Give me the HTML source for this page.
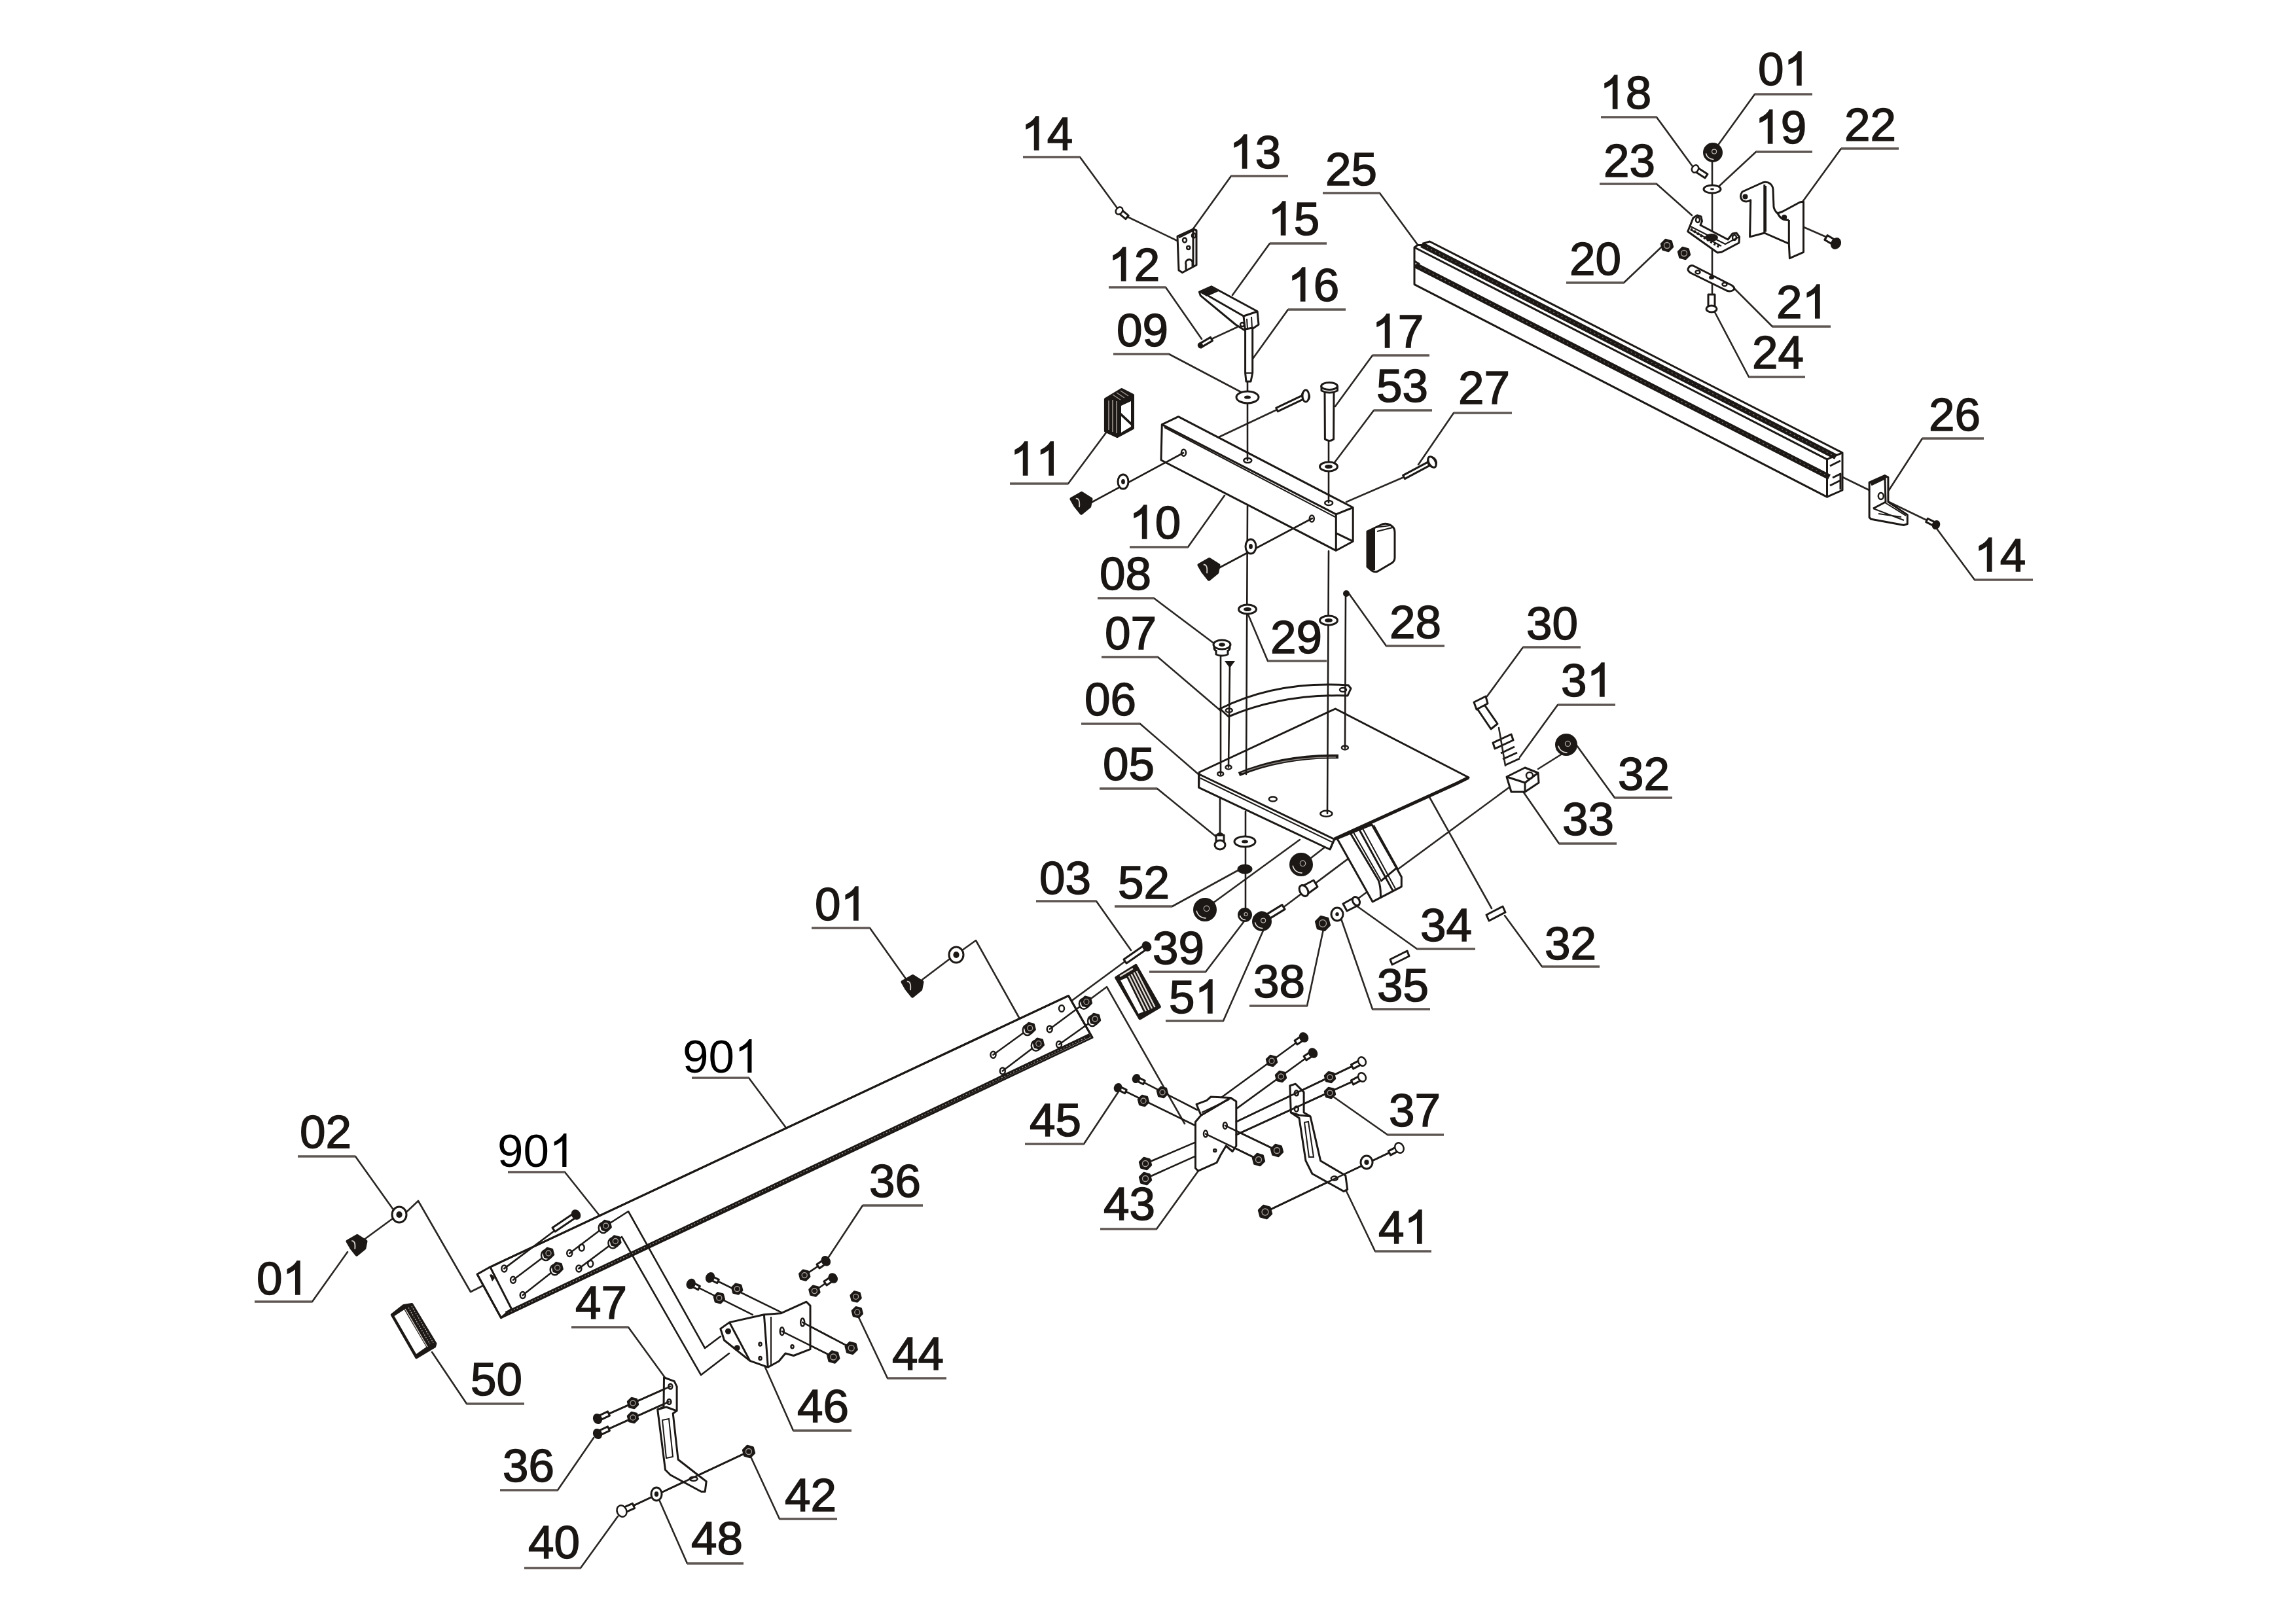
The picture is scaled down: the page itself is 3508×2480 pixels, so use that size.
<!DOCTYPE html>
<html><head><meta charset="utf-8"><style>
html,body{margin:0;padding:0;background:#fff;}
svg{display:block;}
.p{fill:#fff;stroke:#1c1816;stroke-width:3;stroke-linejoin:round;}
.l{fill:none;stroke:#1c1816;stroke-width:3;stroke-linejoin:round;}
.t{fill:none;stroke:#1c1816;stroke-width:2;}
.b{fill:none;stroke:#1c1816;}
.h{fill:none;stroke:#1c1816;stroke-width:2.5;}
.k{fill:#1c1816;stroke:#1c1816;stroke-width:2;}
.a{fill:none;stroke:#2a2624;stroke-width:2.6;stroke-linecap:round;}
</style></head><body>
<svg width="3508" height="2480" viewBox="0 0 3508 2480">
<rect width="3508" height="2480" fill="#fff"/>
<g fill="none" stroke="#2a2624" stroke-width="2.6" stroke-linejoin="round" stroke-linecap="round">
<path d="M1650 240L1707 318 M1881 269L1822 351 M2108 295L2166 374 M1940 372L1883 451 M1781 439L1836 518 M1968 473L1912 551 M1786 541L1896 599 M2097 543L2040 621 M2099 627L2038 708 M2221 631L2167 710 M1632 739L1690 661 M1815 836L1871 757 M1763 914L1860 987 M1769 1004L1865 1086 M1937 1010L1907 939 M2118 987L2061 907 M1742 1106L1831 1183 M1768 1205L1860 1280 M1675 1377L1728 1452 M1791 1385L1895 1328 M1842 1485L1903 1405 M1869 1560L1930 1422 M1997 1537L2022 1420 M2097 1542L2048 1401 M2165 1450L2071 1383 M2356 1477L2299 1399 M2327 989L2272 1064 M2380 1077L2322 1157 M2467 1219L2409 1139 M2382 1289L2326 1208 M2937 670L2886 749 M3017 886L2957 805 M2681 144L2624 223 M2531 179L2588 257 M2683 232L2627 284 M2813 227L2755 307 M2531 281L2585 329 M2481 432L2540 376 M2708 499L2649 440 M2672 576L2620 477 M1329 1418L1385 1497 M1144 1647L1203 1726 M863 1791L926 1870 M543 1767L600 1847 M477 1989L531 1913 M1656 1748L1709 1668 M1767 1878L1831 1789 M2120 1734L2036 1675 M2101 1912L2057 1820 M1318 1842L1262 1927 M960 2028L1016 2105 M713 2145L660 2066 M1212 2186L1169 2089 M1356 2106L1312 2013 M852 2277L907 2197 M887 2396L944 2317 M1050 2389L1005 2287 M1191 2321L1148 2228"/>
</g>
<g class="a" fill="none" stroke="#1e1a18" stroke-width="2.6" stroke-linejoin="round" stroke-linecap="round"><path d="M1722 331 L1799 368 M1851 518 L1890 500 M1951 626 L1862 668 M2145 729 L2057 767 M2616 246 L2616 448 M2726 334 L2790 362 M2811 727 L2856 749 M2886 767 L2944 795 M2306 1203 L2075 1373 M2100 1282 L1960 1387 M1853 1380 L1986 1283 M2003 1311 L2035 1286 M2184 1218 L2279 1388 M1719 1469 L1639 1528 M1660 1531 L1691 1508 L1810 1717 M1470 1452 L1491 1437 L1557 1555 M1409 1497 L1450 1466 M621 1852 L639 1835 L719 1974 L741 1963 M555 1895 L600 1862"/></g>
<g fill="none" stroke="#5e5652" stroke-width="3.6">
<path d="M1563 240H1650 M1881 269H1968 M2021 295H2108 M1940 372H2027 M1694 439H1781 M1968 473H2056 M1701 541H1786 M2097 543H2184 M2099 627H2188 M2221 631H2310 M1543 739H1632 M1726 836H1815 M1677 914H1763 M1683 1004H1769 M1937 1010H2027 M2118 987H2207 M1652 1106H1742 M1680 1205H1768 M1583 1377H1675 M1703 1385H1791 M1756 1485H1842 M1781 1560H1869 M1909 1537H1997 M2097 1542H2185 M2165 1450H2254 M2356 1477H2444 M2327 989H2415 M2380 1077H2468 M2467 1219H2555 M2382 1289H2470 M2937 670H3031 M3017 886H3106 M2681 144H2769 M2446 179H2531 M2683 232H2769 M2813 227H2901 M2444 281H2531 M2393 432H2481 M2708 499H2797 M2672 576H2758 M1240 1418H1329 M1057 1647H1144 M776 1791H863 M455 1767H543 M389 1989H477 M1566 1748H1656 M1681 1878H1767 M2120 1734H2206 M2101 1912H2187 M1318 1842H1410 M873 2028H960 M713 2145H801 M1212 2186H1301 M1356 2106H1446 M764 2277H852 M801 2396H887 M1050 2389H1136 M1191 2321H1279"/>
</g>
<path class="p" d="M2161.0 378.0 L2166.0 374.6 L2172.7 374.6 L2176.6 371.4 L2184.4 369.0 L2815.0 691.9 L2815.0 749.0 L2791.5 759.3 L2161.0 434.6Z"/>
<path class="l" d="M2161 378 L2791.5 701.8 M2791.5 701.8V759.3 M2791.5 701.8 L2815 691.9"/>
<path class="b" stroke-width="8.6" d="M2172 373.9 L2805 698.0 M2163 405.5 L2795 729.0"/>
<path fill="none" stroke="#77706b" stroke-width="1.2" stroke-dasharray="2 5" d="M2180 378.0 L2800 695.4 M2170 409.0 L2790 726.5"/>
<path class="l" d="M2161 399 L2168 403 L2161 406.6"/>
<path class="l" d="M2796 712 L2812 704 M2800 730 L2812 724 V748 M2796 742 L2812 734"/>
<path class="p" d="M1800.4 636.7 L2067.2 775.5 L2067.2 827.2 L2041.3 841.3 L1774 703 L1775.3 648.6Z"/>
<path class="l" d="M1775.3 648.6 L2041.3 785.8 L2067.2 775.5 M2041.3 785.8 V841.3 M2041.3 814.6 L2067.2 827.2"/>
<path class="t" d="M1779 653 L2040 790"/>
<ellipse class="h" cx="1808.5" cy="691.8" rx="3.5" ry="5"/><ellipse class="h" cx="2004.3" cy="792.5" rx="3.5" ry="5"/>
<ellipse class="h" cx="1906.3" cy="703.6" rx="6" ry="3.5"/><ellipse class="h" cx="2030.2" cy="768.5" rx="6" ry="3.5"/>
<path class="p" d="M1864 1083 Q1950 1040 2060 1047 L2064 1052 L2059 1063 Q1960 1060 1877 1095 Z"/>
<ellipse class="h" cx="1877.8" cy="1085.4" rx="5" ry="3"/><ellipse class="h" cx="2052" cy="1054" rx="5" ry="3"/>
<path class="p" d="M1832.3 1180 L2040.3 1083 L2244 1188 L2039 1282 L2032 1298 L1831.6 1203.3 Z"/>
<path class="l" d="M1832 1183 L2038 1282 M1831.6 1203.3 L1831.6 1183 M2039 1282 L2032 1298"/>
<path class="t" d="M1834 1189 L2036 1287"/>
<path class="b" stroke-width="5" d="M2039 1282 L2226 1197 L2244 1188"/>
<path class="b" stroke-width="6.5" d="M1893 1183 Q1960 1155 2045 1156"/>
<path fill="none" stroke="#8a8480" stroke-width="1.5" d="M1897 1181 Q1960 1157 2041 1157"/>
<ellipse class="h" cx="1864.7" cy="1182.5" rx="4.5" ry="3"/>
<ellipse class="h" cx="1877" cy="1172.4" rx="4.5" ry="3"/>
<ellipse class="h" cx="1944.8" cy="1221" rx="6" ry="3.5"/>
<ellipse class="h" cx="2026.4" cy="1243.3" rx="9" ry="4.5"/>
<ellipse class="h" cx="2054.9" cy="1142.4" rx="5" ry="3"/>
<path class="p" d="M2043 1281.6 L2095.9 1260 L2133.8 1326.4 L2141.3 1339.9 L2141.3 1354.8 L2097.2 1377.9 Z"/>
<path class="l" d="M2063.4 1273.5 L2106 1345 Q2110 1355 2109.4 1372.4 M2077 1268 L2128.4 1361.6 M2109.4 1346.7 L2133.8 1326.4"/>
<path class="t" d="M2068 1272 L2111 1347 M2082 1266 L2132 1358 M2099 1261 L2136 1328"/>
<path class="p" d="M729.1 1947.1 L747 1937 L1632.5 1521.5 L1669 1585.5 L765.5 2013.6 Z"/>
<path class="l" stroke-width="4" d="M747 1937 L1632.5 1521.5"/>
<path class="l" d="M748.9 1936 L781.5 2000 M1632.5 1521.5 L1669 1585.5"/>
<path class="b" stroke-width="6" d="M773 2007 L1665 1582"/>
<path fill="none" stroke="#9a948e" stroke-width="1.3" stroke-dasharray="2 3" d="M776 2006 L1660 1585"/>
<path class="l" stroke-width="4" d="M729.1 1947.1 L765.5 2013.6 L781.5 2000"/>
<g fill="none" stroke="#1e1a18" stroke-width="2.6" stroke-linejoin="round" stroke-linecap="round"><path d="M1906 583 L1906 703 M1906 773 L1904 1183 M1903 1240 L1903 1389 M2030 671 L2030 768 M2030 842 L2028 1243 M1865 1001 L1865 1183 M1879 1015 L1877 1172 M2056 907 L2055 1143 M1864 1221 L1864 1274 M1667 768 L1808 692 M1862 868 L2005 792 M960 1851 L1077 2060 L1101 2042 M950 1890 L1071 2101 L1114 2068 M880 1856 L770.4 1938.4 M784 1955.7 L838 1915 M798.7 1979 L851.7 1937.2 M870.2 1915 L925.7 1873 L960 1851 M884.4 1938.4 L940.4 1896.5 L950 1890 M1517.5 1611.7 L1573.7 1571 M1531.8 1636.5 L1586.8 1594.7 M1603.7 1572.5 L1659.9 1530.7 M1618 1596 L1673 1557 M1708 1662 L1826.5 1720 M1736 1648 L1829.3 1696 M1992 1585 L1866 1677 M2006 1609 L1888.8 1694.4 M2081 1622 L1888.8 1714.2 M2081 1646 L1888.8 1734 M1750 1778 L1826.5 1745.4 M1750 1801 L1826.5 1766.6 M1842 1732.6 L1923 1772 M1871.8 1719.9 L1951 1758 M1933 1852 L2138 1754 M1055.7 1961.8 L1149.8 2008.8 M1085 1952 L1192.9 2004.9 M1261.8 1926.8 L1229.2 1948.6 M1272.7 1953 L1244.4 1972.6 M1194.8 2034.3 L1273.3 2073.5 M1226.2 2020.6 L1300.7 2059.8 M913 2168 L1024 2118.6 M913 2191 L1022 2142 M950 2309 L1144 2218"/></g>
<path class="p" d="M1707.8 324.7 L1719.8 334.7 L1724.2 329.3 L1712.2 319.3Z" />
<ellipse cx="1710" cy="322" rx="4.8" ry="6.0" transform="rotate(39.8 1710 322)" fill="#fff" stroke="#1c1816" stroke-width="2.5"/>
<path class="p" d="M1799.0 361.0 L1823.0 350.0 L1828.0 352.0 L1828.0 405.0 L1806.5 416.5 L1801.0 413.0Z" />
<path class="l" d="M1801.0 363.0 L1823.0 352.0 L1823.0 406.0" />
<ellipse class="h" cx="1810" cy="367" rx="3" ry="3.5"/>
<ellipse class="h" cx="1824" cy="360" rx="3" ry="3.5"/>
<ellipse class="h" cx="1815.7" cy="378.6" rx="2.5" ry="2.5"/>
<path class="l" d="M1812 412 L1812 404 A5 5 0 0 1 1822 400 L1822 407"/>
<path class="p" d="M1832.4 446.1 L1850.9 437.8 L1921.1 475.7 L1923.0 496.0 L1911.9 503.4 L1902.6 505.3 L1887.9 496.0 L1834.2 451.6Z" />
<path d="M1833 447 L1851 439 L1862 445 L1844 453Z" fill="#1c1816"/>
<path class="l" d="M1846.0 452.0 L1900.0 483.0 L1921.0 476.0" />
<path class="l" d="M1900.0 483.0 L1902.6 505.3" />
<path class="t" d="M1905 487 L1906 503 M1912 484 L1913 501"/>
<ellipse class="h" cx="1898" cy="496" rx="3" ry="3"/>
<path class="p" d="M1902.6 503.0 L1913.7 501.0 L1913.7 570.0 L1911.0 583.0 L1904.0 583.0 L1902.6 570.0Z" />
<path class="t" d="M1903 570 L1913 570"/>
<path class="p" d="M1835.5 530.6 L1852.5 520.6 L1849.5 515.4 L1832.5 525.4Z" />
<ellipse cx="1834" cy="528" rx="2.8" ry="3.5" transform="rotate(-30.5 1834 528)" fill="#1c1816" stroke="#1c1816" stroke-width="2.5"/>
<ellipse cx="1906" cy="607" rx="17" ry="9" fill="#fff" stroke="#1c1816" stroke-width="3"/>
<ellipse cx="1906" cy="607" rx="5.0" ry="2.6" fill="#1c1816"/>
<path class="p" d="M1993.7 602.3 L1949.7 623.3 L1952.3 628.7 L1996.3 607.7Z" />
<ellipse cx="1995" cy="605" rx="5.6" ry="7.0" transform="rotate(154.5 1995 605)" fill="#fff" stroke="#1c1816" stroke-width="2.5"/>
<ellipse cx="1995" cy="605" rx="5" ry="9" fill="#fff" stroke="#1c1816" stroke-width="3"/>
<path class="p" d="M2024 597 L2038 597 L2037.6 671 Q2031 676 2024.4 671Z"/>
<path class="p" d="M2019 590 L2019 597 Q2031 603 2043.5 597 L2043.5 590Z"/>
<ellipse cx="2031" cy="590" rx="12.3" ry="5.5" fill="#fff" stroke="#1c1816" stroke-width="3"/>
<ellipse cx="2030" cy="713" rx="13.5" ry="7" fill="#fff" stroke="#1c1816" stroke-width="3"/>
<ellipse cx="2030" cy="713" rx="6.0" ry="3.1" fill="#1c1816"/>
<path class="p" d="M2186.6 703.4 L2143.6 726.4 L2146.4 731.6 L2189.4 708.6Z" />
<ellipse cx="2188" cy="706" rx="6.4" ry="8.0" transform="rotate(151.9 2188 706)" fill="#fff" stroke="#1c1816" stroke-width="2.5"/>
<ellipse cx="2188" cy="706" rx="5" ry="9" fill="#fff" stroke="#1c1816" stroke-width="3" transform="rotate(-28 2188 706)"/>
<path d="M1688.9 610 L1713.8 595 L1731 603.9 L1731 654.3 L1707.2 667.1 L1688.9 658.8Z" fill="#1c1816" stroke="#1c1816" stroke-width="4" stroke-linejoin="round"/>
<path fill="#fff" d="M1713 620 L1728 613 L1728 645 L1713 631Z M1713 636 L1728 650 L1728 652 L1713 661Z"/>
<path fill="none" stroke="#9c948e" stroke-width="1.6" d="M1694 612 V657 M1700 611 V660 M1706 613 V662"/>
<path fill="none" stroke="#a8a09a" stroke-width="1.3" d="M1700 603 L1712 611 M1706 600 L1718 608 M1712 597 L1724 605"/>
<path class="p" d="M2089 812 L2112 801 Q2118 799 2124 802 L2128 805 Q2131 808 2131 813 L2131 852 Q2131 857 2127 860 L2105 873 Q2100 875 2096 872 L2089 866Z"/>
<path d="M2089 812 L2101 806 L2101 871 L2096 872 L2089 866Z" fill="#1c1816"/>
<path class="t" d="M2101 806 L2124 803 M2104 812 L2128 806"/>
<path d="M1637.0 762.5 L1652.8 753.5 L1667.0 762.5 L1664.8 773.8 L1652.0 784.2 L1643.0 773.0Z" fill="#1c1816" stroke="#1c1816" stroke-width="5" stroke-linejoin="round"/>
<path d="M1643.8 761.8 Q1650.5 761.0 1649.0 775.2" fill="none" stroke="#d8d2cc" stroke-width="1.8"/>
<ellipse cx="1716" cy="736" rx="8" ry="11" fill="#fff" stroke="#1c1816" stroke-width="3"/>
<ellipse cx="1716" cy="736" rx="2.9" ry="4.0" fill="#1c1816"/>
<path d="M1832.0 863.5 L1847.8 854.5 L1862.0 863.5 L1859.8 874.8 L1847.0 885.2 L1838.0 874.0Z" fill="#1c1816" stroke="#1c1816" stroke-width="5" stroke-linejoin="round"/>
<path d="M1838.8 862.8 Q1845.5 862.0 1844.0 876.2" fill="none" stroke="#d8d2cc" stroke-width="1.8"/>
<ellipse cx="1911" cy="835" rx="8" ry="11" fill="#fff" stroke="#1c1816" stroke-width="3"/>
<ellipse cx="1911" cy="835" rx="2.9" ry="4.0" fill="#1c1816"/>
<ellipse cx="1867" cy="990" rx="12" ry="7" fill="#fff" stroke="#1c1816" stroke-width="3"/>
<path class="p" d="M1858 993 L1858 1000 Q1867 1004 1876 1000 L1876 993"/>
<ellipse cx="1867" cy="985" rx="13" ry="7" fill="#fff" stroke="#1c1816" stroke-width="3"/>
<ellipse cx="1867" cy="985" rx="5" ry="3" fill="#1c1816"/>
<path d="M1873 1011 L1885 1011 L1879 1019Z" fill="#1c1816" stroke="#1c1816" stroke-width="2"/>
<circle cx="2057" cy="907" r="5" fill="#1c1816"/>
<ellipse cx="1906" cy="931" rx="13.5" ry="7" fill="#fff" stroke="#1c1816" stroke-width="3"/>
<ellipse cx="1906" cy="931" rx="6.0" ry="3.1" fill="#1c1816"/>
<ellipse cx="2030" cy="948" rx="13.5" ry="7" fill="#fff" stroke="#1c1816" stroke-width="3"/>
<ellipse cx="2030" cy="948" rx="6.0" ry="3.1" fill="#1c1816"/>
<path class="p" d="M1858 1276 L1870 1276 L1870 1287 L1858 1287Z"/>
<ellipse cx="1864" cy="1291" rx="8" ry="7" fill="#fff" stroke="#1c1816" stroke-width="3"/>
<ellipse cx="1864" cy="1275" rx="5" ry="3" fill="#1c1816"/>
<ellipse cx="1902" cy="1286" rx="16" ry="8" fill="#fff" stroke="#1c1816" stroke-width="3"/>
<ellipse cx="1902" cy="1286" rx="5.0" ry="2.5" fill="#1c1816"/>
<ellipse cx="1902" cy="1328" rx="10" ry="6" fill="#1c1816" stroke="#1c1816" stroke-width="3"/>
<circle cx="1902" cy="1398" r="10" fill="#1c1816" stroke="#1c1816" stroke-width="2"/>
<path d="M1894.5 1399.0 A8.0 8.0 0 0 0 1903.0 1405.5" fill="none" stroke="#e8e4e0" stroke-width="1.6"/>
<circle cx="1903.5" cy="1397.0" r="2.5" fill="none" stroke="#bdb6b0" stroke-width="1.2"/>
<circle cx="1841" cy="1390" r="17" fill="#1c1816" stroke="#1c1816" stroke-width="2"/>
<path d="M1828.2 1391.7 A13.6 13.6 0 0 0 1842.7 1402.8" fill="none" stroke="#e8e4e0" stroke-width="1.6"/>
<circle cx="1843.5" cy="1388.3" r="4.2" fill="none" stroke="#bdb6b0" stroke-width="1.2"/>
<circle cx="1988" cy="1321" r="17" fill="#1c1816" stroke="#1c1816" stroke-width="2"/>
<path d="M1975.2 1322.7 A13.6 13.6 0 0 0 1989.7 1333.8" fill="none" stroke="#e8e4e0" stroke-width="1.6"/>
<circle cx="1990.5" cy="1319.3" r="4.2" fill="none" stroke="#bdb6b0" stroke-width="1.2"/>
<path class="p" d="M1932.1 1408.4 L1963.1 1389.4 L1958.9 1382.6 L1927.9 1401.6Z" />
<ellipse cx="1930" cy="1405" rx="9.6" ry="12.0" transform="rotate(-31.5 1930 1405)" fill="#1c1816" stroke="#1c1816" stroke-width="2.5"/>
<circle cx="1928" cy="1408" r="14" fill="#1c1816" stroke="#1c1816" stroke-width="2"/>
<path d="M1917.5 1409.4 A11.2 11.2 0 0 0 1929.4 1418.5" fill="none" stroke="#e8e4e0" stroke-width="1.6"/>
<circle cx="1930.1" cy="1406.6" r="3.5" fill="none" stroke="#bdb6b0" stroke-width="1.2"/>
<path class="p" d="M1988 1355 L2007 1345 L2013 1355 L1995 1368Z"/>
<ellipse cx="1992" cy="1361" rx="6" ry="9" fill="#fff" stroke="#1c1816" stroke-width="3" transform="rotate(-30 1992 1361)"/>
<path class="p" d="M2031.6 1413.8 L2023.8 1421.6 L2013.2 1418.8 L2010.4 1408.2 L2018.2 1400.4 L2028.8 1403.2Z" style="fill:#1c1816"/>
<circle cx="2021" cy="1411" r="5.5" fill="none" stroke="#aaa29c" stroke-width="1.3"/>
<ellipse cx="2043" cy="1397" rx="9" ry="10" fill="#fff" stroke="#1c1816" stroke-width="3"/>
<ellipse cx="2043" cy="1397" rx="2.7" ry="3.0" fill="#1c1816"/>
<path class="p" d="M2052 1381 L2070 1371 L2076 1383 L2058 1392Z"/>
<ellipse cx="2072" cy="1377" rx="5" ry="7" fill="#fff" stroke="#1c1816" stroke-width="3" transform="rotate(-30 2072 1377)"/>
<path class="p" d="M2271 1398 L2296 1385 L2300 1394 L2275 1407Z"/>
<path class="p" d="M2124 1466 L2150 1453 L2153 1461 L2127 1474Z"/>
<path class="p" d="M2257 1083 L2268 1077 L2288 1106 L2278 1114Z"/>
<path class="p" d="M2252 1073 L2270 1064 L2273 1075 L2256 1084Z"/>
<path class="p" d="M2281 1135 L2309 1122 L2312 1131 L2284 1144Z"/>
<path class="l" stroke-width="4" d="M2293 1151 L2314 1141 M2296 1160 L2318 1150 M2300 1169 L2322 1159"/>
<path class="a" d="M2290 1112 L2300 1170"/>
<path class="p" d="M2302.0 1187.0 L2330.0 1173.0 L2350.0 1181.0 L2351.0 1196.0 L2330.0 1210.0 L2309.0 1210.0Z" />
<path class="l" d="M2302.0 1187.0 L2330.0 1196.0 L2350.0 1181.0" />
<path class="l" d="M2330.0 1196.0 L2330.0 1210.0" />
<circle cx="2337" cy="1185" r="5" fill="none" stroke="#1c1816" stroke-width="2.5"/>
<path class="a" d="M2350 1175 L2393 1148"/>
<circle cx="2393" cy="1138" r="16" fill="#1c1816" stroke="#1c1816" stroke-width="2"/>
<path d="M2381.0 1139.6 A12.8 12.8 0 0 0 2394.6 1150.0" fill="none" stroke="#e8e4e0" stroke-width="1.6"/>
<circle cx="2395.4" cy="1136.4" r="4.0" fill="none" stroke="#bdb6b0" stroke-width="1.2"/>
<path class="p" d="M2856.1 737.1 L2879.7 726.6 L2884.9 729.3 L2884.9 767.1 L2914.3 786.7 L2914.3 800.5 L2909.0 802.4 L2858.8 793.3 L2856.1 790.7Z" />
<path class="l" d="M2859.0 741.0 L2880.0 731.0 L2881.0 767.0 L2862.0 777.0" />
<path class="t" d="M2862 777 L2909 795 M2870 785 L2905 790 M2880 768 L2912 788"/>
<path d="M2856 737 L2880 726 L2885 729 L2860 741Z" fill="#1c1816"/>
<ellipse class="h" cx="2873.8" cy="758" rx="4" ry="5"/>
<path class="p" d="M2959.3 799.3 L2945.3 792.3 L2942.7 797.7 L2956.7 804.7Z" />
<ellipse cx="2958" cy="802" rx="4.8" ry="6.0" transform="rotate(-153.4 2958 802)" fill="#1c1816" stroke="#1c1816" stroke-width="2.5"/>
<circle cx="2617" cy="233" r="14" fill="#1c1816" stroke="#1c1816" stroke-width="2"/>
<path d="M2606.5 234.4 A11.2 11.2 0 0 0 2618.4 243.5" fill="none" stroke="#e8e4e0" stroke-width="1.6"/>
<circle cx="2619.1" cy="231.6" r="3.5" fill="none" stroke="#bdb6b0" stroke-width="1.2"/>
<path class="p" d="M2588.1 260.9 L2605.1 271.9 L2608.9 266.1 L2591.9 255.1Z" />
<ellipse cx="2590" cy="258" rx="4.8" ry="6.0" transform="rotate(32.9 2590 258)" fill="#fff" stroke="#1c1816" stroke-width="2.5"/>
<ellipse cx="2616" cy="289" rx="13" ry="6" fill="#fff" stroke="#1c1816" stroke-width="3"/>
<ellipse cx="2616" cy="289" rx="3.0" ry="1.4" fill="#1c1816"/>
<path class="p" d="M2578.7 353.7 L2583.4 342.0 L2587.0 333.0 L2593.0 329.0 L2599.0 331.0 L2600.5 338.0 L2598.0 344.0 L2640.0 366.0 L2647.0 357.0 L2653.0 356.0 L2657.5 362.0 L2657.0 371.0 L2630.2 385.3 L2624.0 386.0Z" />
<path class="t" d="M2583 346 L2636 373 L2657 362 M2585 352 L2630 376"/>
<ellipse class="h" cx="2594" cy="336" rx="3" ry="4"/>
<ellipse class="h" cx="2650" cy="363" rx="3" ry="4"/>
<ellipse cx="2615" cy="363" rx="10" ry="6" fill="#1c1816"/>
<path fill="none" stroke="#1c1816" stroke-width="4" stroke-dasharray="3 3" d="M2583 350 L2628 378"/>
<path class="p" d="M2587 406 L2646 436 Q2653 441 2647 444 Q2643 446 2638 444 L2583 417 Q2577 413 2580 409 Q2582 405 2587 406Z"/>
<ellipse class="h" cx="2594" cy="415.7" rx="3.5" ry="2.5"/>
<ellipse cx="2615" cy="424" rx="4" ry="3" fill="#1c1816"/>
<ellipse class="h" cx="2635" cy="434.4" rx="3.5" ry="2.5"/>
<path class="p" d="M2610 450 L2620 450 L2620 468 L2610 468Z"/>
<ellipse cx="2615" cy="472" rx="8" ry="5" fill="#fff" stroke="#1c1816" stroke-width="3"/>
<path class="p" d="M2555.7 377.3 L2549.3 383.7 L2540.6 381.4 L2538.3 372.7 L2544.7 366.3 L2553.4 368.6Z" style="fill:#1c1816"/>
<circle cx="2547" cy="375" r="4.5" fill="none" stroke="#aaa29c" stroke-width="1.3"/>
<path class="p" d="M2581.7 389.3 L2575.3 395.7 L2566.6 393.4 L2564.3 384.7 L2570.7 378.3 L2579.4 380.6Z" style="fill:#1c1816"/>
<circle cx="2573" cy="387" r="4.5" fill="none" stroke="#aaa29c" stroke-width="1.3"/>
<path class="p" d="M2674.7 305.7 Q2668 310 2662 306 Q2657 300 2662 293 L2693 279 Q2700 277 2705 281 Q2709 285 2709 290 L2710 316 Q2711 322 2716 326 L2724 323 L2750 309 L2755.5 308 L2755.5 385.3 L2734.4 394.6 L2733.3 372.4 L2695.8 356 L2673.6 361.9Z"/>
<path class="l" d="M2695.8 282 L2695.8 356 M2733.3 336 L2733.3 372.4"/>
<path class="t" d="M2698 284 L2698 354"/>
<circle cx="2666.5" cy="300.4" r="4" fill="#1c1816"/><circle cx="2726.2" cy="332" r="4" fill="#1c1816"/>
<path class="l" d="M2716 326 Q2722 338 2733 336"/>
<path class="p" d="M2807.1 368.6 L2792.1 359.6 L2787.9 366.4 L2802.9 375.4Z" />
<ellipse cx="2805" cy="372" rx="6.4" ry="8.0" transform="rotate(-149.0 2805 372)" fill="#1c1816" stroke="#1c1816" stroke-width="2.5"/>
<path class="p" d="M1750.0 1443.1 L1717.0 1466.1 L1721.0 1471.9 L1754.0 1448.9Z" />
<ellipse cx="1752" cy="1446" rx="5.6" ry="7.0" transform="rotate(145.1 1752 1446)" fill="#1c1816" stroke="#1c1816" stroke-width="2.5"/>
<path d="M1705.7 1494 L1735.3 1475.5 L1771.3 1538.3 L1741.8 1555.9Z" fill="#1c1816" stroke="#1c1816" stroke-width="5" stroke-linejoin="round"/>
<path d="M1712 1498 L1721.5 1494 L1747 1546 L1739.5 1549Z" fill="#fff"/>
<path fill="none" stroke="#e0dad4" stroke-width="2.4" d="M1724.5 1491 L1751 1545 M1728.5 1488.5 L1755.5 1543 M1732.5 1486 L1760 1541 M1736.5 1484 L1764.5 1539 M1711 1492 L1731 1480"/>
<path d="M1379.0 1500.5 L1394.8 1491.5 L1409.0 1500.5 L1406.8 1511.8 L1394.0 1522.2 L1385.0 1511.0Z" fill="#1c1816" stroke="#1c1816" stroke-width="5" stroke-linejoin="round"/>
<path d="M1385.8 1499.8 Q1392.5 1499.0 1391.0 1513.2" fill="none" stroke="#d8d2cc" stroke-width="1.8"/>
<ellipse cx="1461" cy="1459" rx="11" ry="12" fill="#fff" stroke="#1c1816" stroke-width="3"/>
<ellipse cx="1461" cy="1459" rx="4.6" ry="5.0" fill="#1c1816"/>
<ellipse cx="610" cy="1856" rx="11" ry="12" fill="#fff" stroke="#1c1816" stroke-width="3"/>
<ellipse cx="610" cy="1856" rx="4.6" ry="5.0" fill="#1c1816"/>
<path d="M531.0 1896.8 L545.7 1888.4 L559.0 1896.8 L556.9 1907.3 L545.0 1917.1 L536.6 1906.6Z" fill="#1c1816" stroke="#1c1816" stroke-width="5" stroke-linejoin="round"/>
<path d="M537.3 1896.1 Q543.6 1895.4 542.2 1908.7" fill="none" stroke="#d8d2cc" stroke-width="1.8"/>
<path d="M598.8 2009.1 L616.9 1994.9 L629.2 1992.9 L665.4 2053.1 L664.1 2057.6 L636.3 2074.4 Z" fill="#1c1816" stroke="#1c1816" stroke-width="4" stroke-linejoin="round"/>
<path d="M602.5 2011 L617.5 2001.3 L651.2 2058.3 L636 2069 Z" fill="#fff"/>
<path fill="none" stroke="#aaa29c" stroke-width="1.4" stroke-dasharray="2 2" d="M624 1998 L657 2054 M629 1996 L662 2052"/>
<path fill="none" stroke="#ddd6d0" stroke-width="1.4" d="M619 2000 L653 2058"/>
<path class="p" d="M878.0 1853.1 L844.0 1876.1 L848.0 1881.9 L882.0 1858.9Z" />
<ellipse cx="880" cy="1856" rx="5.6" ry="7.0" transform="rotate(145.9 880 1856)" fill="#1c1816" stroke="#1c1816" stroke-width="2.5"/>
<ellipse class="h" cx="770.4" cy="1938.4" rx="4" ry="5"/>
<ellipse class="h" cx="784" cy="1955.7" rx="4" ry="5"/>
<ellipse class="h" cx="798.7" cy="1979" rx="4" ry="5"/>
<ellipse class="h" cx="870.2" cy="1915" rx="4" ry="5"/>
<ellipse class="h" cx="884.4" cy="1938.4" rx="4" ry="5"/>
<ellipse class="h" cx="888.7" cy="1906.4" rx="4" ry="5"/>
<ellipse class="h" cx="902.2" cy="1931" rx="4" ry="5"/>
<ellipse class="h" cx="1517.5" cy="1611.7" rx="4" ry="5"/>
<ellipse class="h" cx="1531.8" cy="1636.5" rx="4" ry="5"/>
<ellipse class="h" cx="1603.7" cy="1572.5" rx="4" ry="5"/>
<ellipse class="h" cx="1618" cy="1596" rx="4" ry="5"/>
<ellipse class="h" cx="1622" cy="1541" rx="4" ry="5"/>
<ellipse cx="834" cy="1918" rx="7" ry="8" fill="#fff" stroke="#1c1816" stroke-width="2.5"/>
<path class="p" d="M845.7 1917.1 L840.1 1922.7 L832.3 1920.7 L830.3 1912.9 L835.9 1907.3 L843.7 1909.3Z" style="fill:#1c1816"/>
<circle cx="838" cy="1915" r="4.0" fill="none" stroke="#aaa29c" stroke-width="1.3"/>
<ellipse cx="847.7" cy="1940.2" rx="7" ry="8" fill="#fff" stroke="#1c1816" stroke-width="2.5"/>
<path class="p" d="M859.4 1939.3 L853.8 1944.9 L846.0 1942.9 L844.0 1935.1 L849.6 1929.5 L857.4 1931.5Z" style="fill:#1c1816"/>
<circle cx="851.7" cy="1937.2" r="4.0" fill="none" stroke="#aaa29c" stroke-width="1.3"/>
<ellipse cx="921.7" cy="1876" rx="7" ry="8" fill="#fff" stroke="#1c1816" stroke-width="2.5"/>
<path class="p" d="M933.4 1875.1 L927.8 1880.7 L920.0 1878.7 L918.0 1870.9 L923.6 1865.3 L931.4 1867.3Z" style="fill:#1c1816"/>
<circle cx="925.7" cy="1873" r="4.0" fill="none" stroke="#aaa29c" stroke-width="1.3"/>
<ellipse cx="936.4" cy="1899.5" rx="7" ry="8" fill="#fff" stroke="#1c1816" stroke-width="2.5"/>
<path class="p" d="M948.1 1898.6 L942.5 1904.2 L934.7 1902.2 L932.7 1894.4 L938.3 1888.8 L946.1 1890.8Z" style="fill:#1c1816"/>
<circle cx="940.4" cy="1896.5" r="4.0" fill="none" stroke="#aaa29c" stroke-width="1.3"/>
<ellipse cx="1569.7" cy="1574" rx="7" ry="8" fill="#fff" stroke="#1c1816" stroke-width="2.5"/>
<path class="p" d="M1581.4 1573.1 L1575.8 1578.7 L1568.0 1576.7 L1566.0 1568.9 L1571.6 1563.3 L1579.4 1565.3Z" style="fill:#1c1816"/>
<circle cx="1573.7" cy="1571" r="4.0" fill="none" stroke="#aaa29c" stroke-width="1.3"/>
<ellipse cx="1582.8" cy="1597.7" rx="7" ry="8" fill="#fff" stroke="#1c1816" stroke-width="2.5"/>
<path class="p" d="M1594.5 1596.8 L1588.9 1602.4 L1581.1 1600.4 L1579.1 1592.6 L1584.7 1587.0 L1592.5 1589.0Z" style="fill:#1c1816"/>
<circle cx="1586.8" cy="1594.7" r="4.0" fill="none" stroke="#aaa29c" stroke-width="1.3"/>
<ellipse cx="1655.9" cy="1533.7" rx="7" ry="8" fill="#fff" stroke="#1c1816" stroke-width="2.5"/>
<path class="p" d="M1667.6 1532.8 L1662.0 1538.4 L1654.2 1536.4 L1652.2 1528.6 L1657.8 1523.0 L1665.6 1525.0Z" style="fill:#1c1816"/>
<circle cx="1659.9" cy="1530.7" r="4.0" fill="none" stroke="#aaa29c" stroke-width="1.3"/>
<ellipse cx="1669" cy="1560" rx="7" ry="8" fill="#fff" stroke="#1c1816" stroke-width="2.5"/>
<path class="p" d="M1680.7 1559.1 L1675.1 1564.7 L1667.3 1562.7 L1665.3 1554.9 L1670.9 1549.3 L1678.7 1551.3Z" style="fill:#1c1816"/>
<circle cx="1673" cy="1557" r="4.0" fill="none" stroke="#aaa29c" stroke-width="1.3"/>
<path d="M748 1948 Q752 1945 756 1953 L752 1958Z" fill="#1c1816"/>
<path class="p" d="M1826.5 1714.2 L1835.0 1704.3 L1880.3 1677.4 L1888.8 1683.1 L1888.8 1751.0 L1883.1 1759.5 L1873.2 1751.0 L1864.7 1765.2 L1859.0 1776.5 L1830.7 1789.2 L1826.5 1785.0Z" />
<path class="p" d="M1828.0 1687.3 L1843.5 1681.7 L1850.0 1676.0 L1880.3 1677.4 L1835.0 1704.3Z" />
<path class="t" d="M1836 1700 L1878 1680"/>
<ellipse class="h" cx="1842" cy="1732.6" rx="3" ry="5"/>
<ellipse class="h" cx="1871.8" cy="1719.9" rx="3" ry="5"/>
<ellipse class="h" cx="1856.2" cy="1758.1" rx="2" ry="2"/>
<path d="M1842.0 1732.6 L1923.0 1772.0 M1871.8 1719.9 L1951.0 1758.0" fill="none" stroke="#1e1a18" stroke-width="2.6" stroke-linecap="round"/>
<path class="p" d="M1970.9 1659.0 L1979.4 1656.2 L1992.1 1668.9 L1992.1 1700.0 L2002.0 1705.7 L2017.6 1773.7 L2055.8 1796.3 L2058.7 1817.6 L2053.0 1820.4 L2004.9 1793.5 L1995.0 1773.7 L1985.0 1708.5 L1972.3 1700.0Z" />
<path class="l" d="M1972.3 1700.0 L1985.0 1704.0 L2002.0 1705.7" />
<ellipse class="h" cx="1980.8" cy="1670.3" rx="3" ry="4"/>
<ellipse class="h" cx="1980.8" cy="1694.4" rx="3" ry="4"/>
<ellipse class="h" cx="2038.8" cy="1800.6" rx="5" ry="3"/>
<path class="t" d="M1993 1715 L2000 1768 L2007 1768 L1999 1714Z"/>
<path d="M2081.0 1622.0 L1888.8 1714.2 M2081.0 1646.0 L1888.8 1734.0 M1933.0 1852.0 L2138.0 1754.0" fill="none" stroke="#1e1a18" stroke-width="2.6" stroke-linecap="round"/>
<path class="p" d="M1706.7 1664.7 L1718.7 1670.7 L1721.3 1665.3 L1709.3 1659.3Z" />
<ellipse cx="1708" cy="1662" rx="4.8" ry="6.0" transform="rotate(26.6 1708 1662)" fill="#1c1816" stroke="#1c1816" stroke-width="2.5"/>
<path class="p" d="M1754.7 1684.1 L1749.1 1689.7 L1741.3 1687.7 L1739.3 1679.9 L1744.9 1674.3 L1752.7 1676.3Z" style="fill:#1c1816"/>
<circle cx="1747" cy="1682" r="4.0" fill="none" stroke="#aaa29c" stroke-width="1.3"/>
<path class="p" d="M1734.7 1650.7 L1746.7 1656.7 L1749.3 1651.3 L1737.3 1645.3Z" />
<ellipse cx="1736" cy="1648" rx="4.8" ry="6.0" transform="rotate(26.6 1736 1648)" fill="#1c1816" stroke="#1c1816" stroke-width="2.5"/>
<path class="p" d="M1783.7 1671.1 L1778.1 1676.7 L1770.3 1674.7 L1768.3 1666.9 L1773.9 1661.3 L1781.7 1663.3Z" style="fill:#1c1816"/>
<circle cx="1776" cy="1669" r="4.0" fill="none" stroke="#aaa29c" stroke-width="1.3"/>
<path class="p" d="M1990.1 1582.1 L1978.1 1590.1 L1981.9 1595.9 L1993.9 1587.9Z" />
<ellipse cx="1992" cy="1585" rx="5.6" ry="7.0" transform="rotate(146.3 1992 1585)" fill="#1c1816" stroke="#1c1816" stroke-width="2.5"/>
<path class="p" d="M1950.7 1623.1 L1945.1 1628.7 L1937.3 1626.7 L1935.3 1618.9 L1940.9 1613.3 L1948.7 1615.3Z" style="fill:#1c1816"/>
<circle cx="1943" cy="1621" r="4.0" fill="none" stroke="#aaa29c" stroke-width="1.3"/>
<path class="p" d="M2004.1 1606.1 L1992.1 1614.1 L1995.9 1619.9 L2007.9 1611.9Z" />
<ellipse cx="2006" cy="1609" rx="5.6" ry="7.0" transform="rotate(146.3 2006 1609)" fill="#1c1816" stroke="#1c1816" stroke-width="2.5"/>
<path class="p" d="M1964.7 1647.1 L1959.1 1652.7 L1951.3 1650.7 L1949.3 1642.9 L1954.9 1637.3 L1962.7 1639.3Z" style="fill:#1c1816"/>
<circle cx="1957" cy="1645" r="4.0" fill="none" stroke="#aaa29c" stroke-width="1.3"/>
<path class="p" d="M2079.4 1618.9 L2064.4 1626.9 L2067.6 1633.1 L2082.6 1625.1Z" />
<ellipse cx="2081" cy="1622" rx="5.6" ry="7.0" transform="rotate(151.9 2081 1622)" fill="#fff" stroke="#1c1816" stroke-width="2.5"/>
<path class="p" d="M2039.7 1648.1 L2034.1 1653.7 L2026.3 1651.7 L2024.3 1643.9 L2029.9 1638.3 L2037.7 1640.3Z" style="fill:#1c1816"/>
<circle cx="2032" cy="1646" r="4.0" fill="none" stroke="#aaa29c" stroke-width="1.3"/>
<path class="p" d="M2079.4 1642.9 L2064.4 1650.9 L2067.6 1657.1 L2082.6 1649.1Z" />
<ellipse cx="2081" cy="1646" rx="5.6" ry="7.0" transform="rotate(151.9 2081 1646)" fill="#fff" stroke="#1c1816" stroke-width="2.5"/>
<path class="p" d="M2039.7 1672.1 L2034.1 1677.7 L2026.3 1675.7 L2024.3 1667.9 L2029.9 1662.3 L2037.7 1664.3Z" style="fill:#1c1816"/>
<circle cx="2032" cy="1670" r="4.0" fill="none" stroke="#aaa29c" stroke-width="1.3"/>
<path class="p" d="M1758.7 1780.3 L1752.3 1786.7 L1743.6 1784.4 L1741.3 1775.7 L1747.7 1769.3 L1756.4 1771.6Z" style="fill:#1c1816"/>
<circle cx="1750" cy="1778" r="4.5" fill="none" stroke="#aaa29c" stroke-width="1.3"/>
<path class="p" d="M1758.7 1803.3 L1752.3 1809.7 L1743.6 1807.4 L1741.3 1798.7 L1747.7 1792.3 L1756.4 1794.6Z" style="fill:#1c1816"/>
<circle cx="1750" cy="1801" r="4.5" fill="none" stroke="#aaa29c" stroke-width="1.3"/>
<path class="p" d="M1931.7 1774.3 L1925.3 1780.7 L1916.6 1778.4 L1914.3 1769.7 L1920.7 1763.3 L1929.4 1765.6Z" style="fill:#1c1816"/>
<circle cx="1923" cy="1772" r="4.5" fill="none" stroke="#aaa29c" stroke-width="1.3"/>
<path class="p" d="M1959.7 1760.3 L1953.3 1766.7 L1944.6 1764.4 L1942.3 1755.7 L1948.7 1749.3 L1957.4 1751.6Z" style="fill:#1c1816"/>
<circle cx="1951" cy="1758" r="4.5" fill="none" stroke="#aaa29c" stroke-width="1.3"/>
<path class="p" d="M1942.7 1854.6 L1935.6 1861.7 L1925.9 1859.1 L1923.3 1849.4 L1930.4 1842.3 L1940.1 1844.9Z" style="fill:#1c1816"/>
<circle cx="1933" cy="1852" r="5.0" fill="none" stroke="#aaa29c" stroke-width="1.3"/>
<ellipse cx="2088" cy="1776" rx="9" ry="10" fill="#fff" stroke="#1c1816" stroke-width="3"/>
<ellipse cx="2088" cy="1776" rx="3.6" ry="4.0" fill="#1c1816"/>
<path class="p" d="M2136.4 1750.9 L2121.4 1758.9 L2124.6 1765.1 L2139.6 1757.1Z" />
<ellipse cx="2138" cy="1754" rx="6.4" ry="8.0" transform="rotate(151.9 2138 1754)" fill="#fff" stroke="#1c1816" stroke-width="2.5"/>
<path class="p" d="M1100.8 2030.4 L1114.5 2020.6 L1167.4 2008.8 L1192.9 2006.8 L1232.1 1989.2 L1238.0 1995.1 L1238.0 2061.7 L1212.5 2071.5 L1200.0 2068.0 L1190.0 2080.0 L1173.3 2089.2 L1145.8 2079.4 L1106.6 2048.0Z" />
<path class="l" d="M1114.5 2020.6 L1145.8 2079.4" />
<path class="l" d="M1167.4 2008.8 L1173.3 2089.2" />
<path class="t" d="M1178 2012 L1178 2087"/>
<circle cx="1112.5" cy="2034.3" r="4.5" fill="#1c1816"/><circle cx="1126.2" cy="2059.8" r="4.5" fill="#1c1816"/>
<ellipse class="h" cx="1194.8" cy="2034.3" rx="3" ry="6"/>
<ellipse class="h" cx="1226.2" cy="2020.6" rx="3" ry="6"/>
<ellipse class="h" cx="1161.5" cy="2053.9" rx="2" ry="2.5"/>
<ellipse class="h" cx="1161.5" cy="2075.4" rx="2" ry="2.5"/>
<ellipse class="h" cx="1210.5" cy="2057.8" rx="2" ry="2.5"/>
<path d="M1194.8 2034.3 L1273.3 2073.5 M1226.2 2020.6 L1300.7 2059.8" fill="none" stroke="#1e1a18" stroke-width="2.6" stroke-linecap="round"/>
<path class="p" d="M1054.3 1964.5 L1066.6 1970.7 L1069.4 1965.3 L1057.1 1959.1Z" />
<ellipse cx="1055.7" cy="1961.8" rx="5.6" ry="7.0" transform="rotate(26.8 1055.7 1961.8)" fill="#1c1816" stroke="#1c1816" stroke-width="2.5"/>
<path class="p" d="M1106.5 1985.4 L1100.9 1991.0 L1093.1 1989.0 L1091.1 1981.2 L1096.7 1975.6 L1104.5 1977.6Z" style="fill:#1c1816"/>
<circle cx="1098.8" cy="1983.3" r="4.0" fill="none" stroke="#aaa29c" stroke-width="1.3"/>
<path class="p" d="M1083.7 1954.7 L1095.7 1960.7 L1098.3 1955.3 L1086.3 1949.3Z" />
<ellipse cx="1085" cy="1952" rx="5.6" ry="7.0" transform="rotate(26.6 1085 1952)" fill="#1c1816" stroke="#1c1816" stroke-width="2.5"/>
<path class="p" d="M1133.9 1971.7 L1128.3 1977.3 L1120.5 1975.3 L1118.5 1967.5 L1124.1 1961.9 L1131.9 1963.9Z" style="fill:#1c1816"/>
<circle cx="1126.2" cy="1969.6" r="4.0" fill="none" stroke="#aaa29c" stroke-width="1.3"/>
<path class="p" d="M1259.8 1923.9 L1248.0 1932.1 L1252.0 1937.9 L1263.8 1929.7Z" />
<ellipse cx="1261.8" cy="1926.8" rx="5.6" ry="7.0" transform="rotate(145.2 1261.8 1926.8)" fill="#1c1816" stroke="#1c1816" stroke-width="2.5"/>
<path class="p" d="M1236.9 1950.7 L1231.3 1956.3 L1223.5 1954.3 L1221.5 1946.5 L1227.1 1940.9 L1234.9 1942.9Z" style="fill:#1c1816"/>
<circle cx="1229.2" cy="1948.6" r="4.0" fill="none" stroke="#aaa29c" stroke-width="1.3"/>
<path class="p" d="M1270.7 1950.1 L1259.0 1958.1 L1263.0 1963.9 L1274.7 1955.9Z" />
<ellipse cx="1272.7" cy="1953" rx="5.6" ry="7.0" transform="rotate(145.6 1272.7 1953)" fill="#1c1816" stroke="#1c1816" stroke-width="2.5"/>
<path class="p" d="M1252.1 1974.7 L1246.5 1980.3 L1238.7 1978.3 L1236.7 1970.5 L1242.3 1964.9 L1250.1 1966.9Z" style="fill:#1c1816"/>
<circle cx="1244.4" cy="1972.6" r="4.0" fill="none" stroke="#aaa29c" stroke-width="1.3"/>
<path class="p" d="M1315.3 1983.4 L1309.7 1989.0 L1301.9 1987.0 L1299.9 1979.2 L1305.5 1973.6 L1313.3 1975.6Z" style="fill:#1c1816"/>
<circle cx="1307.6" cy="1981.3" r="4.0" fill="none" stroke="#aaa29c" stroke-width="1.3"/>
<path class="p" d="M1317.5 2007.3 L1311.9 2012.9 L1304.1 2010.9 L1302.1 2003.1 L1307.7 1997.5 L1315.5 1999.5Z" style="fill:#1c1816"/>
<circle cx="1309.8" cy="2005.2" r="4.0" fill="none" stroke="#aaa29c" stroke-width="1.3"/>
<path class="p" d="M1282.0 2075.8 L1275.6 2082.2 L1266.9 2079.9 L1264.6 2071.2 L1271.0 2064.8 L1279.7 2067.1Z" style="fill:#1c1816"/>
<circle cx="1273.3" cy="2073.5" r="4.5" fill="none" stroke="#aaa29c" stroke-width="1.3"/>
<path class="p" d="M1309.4 2062.1 L1303.0 2068.5 L1294.3 2066.2 L1292.0 2057.5 L1298.4 2051.1 L1307.1 2053.4Z" style="fill:#1c1816"/>
<circle cx="1300.7" cy="2059.8" r="4.5" fill="none" stroke="#aaa29c" stroke-width="1.3"/>
<path class="p" d="M1014.5 2104.8 L1030.2 2110.7 L1034.1 2118.6 L1034.1 2155.8 L1028.2 2159.7 L1036.1 2230.3 L1071.4 2257.7 L1079.2 2263.6 L1077.2 2279.3 L1071.4 2279.3 L1024.3 2253.8 L1016.5 2246.0 L1004.7 2153.8 L1014.0 2150.0Z" />
<path class="l" d="M1004.7 2153.8 L1018.0 2150.0 L1034.1 2155.8" />
<ellipse class="h" cx="1024.3" cy="2118.6" rx="3" ry="4"/>
<ellipse class="h" cx="1022.4" cy="2142" rx="3" ry="4"/>
<ellipse class="h" cx="1059.6" cy="2259.7" rx="6" ry="3"/>
<path class="t" d="M1012 2170 L1018 2228 L1028 2226 L1022 2168Z"/>
<path d="M913.0 2168.0 L1024.0 2118.6 M913.0 2191.0 L1022.0 2142.0 M950.0 2309.0 L1144.0 2218.0" fill="none" stroke="#1e1a18" stroke-width="2.6" stroke-linecap="round"/>
<path class="p" d="M914.5 2171.2 L931.5 2163.2 L928.5 2156.8 L911.5 2164.8Z" />
<ellipse cx="913" cy="2168" rx="5.6" ry="7.0" transform="rotate(-25.2 913 2168)" fill="#1c1816" stroke="#1c1816" stroke-width="2.5"/>
<path class="p" d="M974.7 2146.1 L969.1 2151.7 L961.3 2149.7 L959.3 2141.9 L964.9 2136.3 L972.7 2138.3Z" style="fill:#1c1816"/>
<circle cx="967" cy="2144" r="4.0" fill="none" stroke="#aaa29c" stroke-width="1.3"/>
<path class="p" d="M914.5 2194.2 L931.5 2186.2 L928.5 2179.8 L911.5 2187.8Z" />
<ellipse cx="913" cy="2191" rx="5.6" ry="7.0" transform="rotate(-25.2 913 2191)" fill="#1c1816" stroke="#1c1816" stroke-width="2.5"/>
<path class="p" d="M974.7 2168.1 L969.1 2173.7 L961.3 2171.7 L959.3 2163.9 L964.9 2158.3 L972.7 2160.3Z" style="fill:#1c1816"/>
<circle cx="967" cy="2166" r="4.0" fill="none" stroke="#aaa29c" stroke-width="1.3"/>
<path class="p" d="M951.6 2312.7 L969.6 2304.7 L966.4 2297.3 L948.4 2305.3Z" />
<ellipse cx="950" cy="2309" rx="7.2" ry="9.0" transform="rotate(-24.0 950 2309)" fill="#fff" stroke="#1c1816" stroke-width="2.5"/>
<ellipse cx="1003" cy="2283" rx="8" ry="10" fill="#fff" stroke="#1c1816" stroke-width="3"/>
<ellipse cx="1003" cy="2283" rx="3.2" ry="4.0" fill="#1c1816"/>
<path class="p" d="M1152.7 2220.3 L1146.3 2226.7 L1137.6 2224.4 L1135.3 2215.7 L1141.7 2209.3 L1150.4 2211.6Z" style="fill:#1c1816"/>
<circle cx="1144" cy="2218" r="4.5" fill="none" stroke="#aaa29c" stroke-width="1.3"/>
<g style='font-family:"Liberation Sans",sans-serif' font-size="71" fill="#1a1614" stroke="#1a1614" stroke-width="1.5">
<path transform="translate(1560.3,229) scale(0.03467,-0.03467)" stroke-width="43.3" d="M763 0H583V1147Q518 1085 412 1023Q306 961 222 930V1104Q373 1175 486 1276Q599 1377 646 1472H763Z"/><text x="1599.8" y="229">4</text><path transform="translate(1878.3,257) scale(0.03467,-0.03467)" stroke-width="43.3" d="M763 0H583V1147Q518 1085 412 1023Q306 961 222 930V1104Q373 1175 486 1276Q599 1377 646 1472H763Z"/><text x="1917.8" y="257">3</text><text x="2025.0" y="283">2</text><text x="2064.5" y="283">5</text><path transform="translate(1937.3,359) scale(0.03467,-0.03467)" stroke-width="43.3" d="M763 0H583V1147Q518 1085 412 1023Q306 961 222 930V1104Q373 1175 486 1276Q599 1377 646 1472H763Z"/><text x="1976.8" y="359">5</text><path transform="translate(1693.3,429) scale(0.03467,-0.03467)" stroke-width="43.3" d="M763 0H583V1147Q518 1085 412 1023Q306 961 222 930V1104Q373 1175 486 1276Q599 1377 646 1472H763Z"/><text x="1732.8" y="429">2</text><path transform="translate(1967.3,460) scale(0.03467,-0.03467)" stroke-width="43.3" d="M763 0H583V1147Q518 1085 412 1023Q306 961 222 930V1104Q373 1175 486 1276Q599 1377 646 1472H763Z"/><text x="2006.8" y="460">6</text><text x="1706.0" y="529">0</text><text x="1745.5" y="529">9</text><path transform="translate(2096.3,531) scale(0.03467,-0.03467)" stroke-width="43.3" d="M763 0H583V1147Q518 1085 412 1023Q306 961 222 930V1104Q373 1175 486 1276Q599 1377 646 1472H763Z"/><text x="2135.8" y="531">7</text><text x="2103.0" y="614">5</text><text x="2142.5" y="614">3</text><text x="2228.0" y="617">2</text><text x="2267.5" y="617">7</text><path transform="translate(1543.3,726) scale(0.03467,-0.03467)" stroke-width="43.3" d="M763 0H583V1147Q518 1085 412 1023Q306 961 222 930V1104Q373 1175 486 1276Q599 1377 646 1472H763Z"/><path transform="translate(1582.8,726) scale(0.03467,-0.03467)" stroke-width="43.3" d="M763 0H583V1147Q518 1085 412 1023Q306 961 222 930V1104Q373 1175 486 1276Q599 1377 646 1472H763Z"/><path transform="translate(1725.3,823) scale(0.03467,-0.03467)" stroke-width="43.3" d="M763 0H583V1147Q518 1085 412 1023Q306 961 222 930V1104Q373 1175 486 1276Q599 1377 646 1472H763Z"/><text x="1764.8" y="823">0</text><text x="1680.0" y="901">0</text><text x="1719.5" y="901">8</text><text x="1688.0" y="992">0</text><text x="1727.5" y="992">7</text><text x="1941.0" y="998">2</text><text x="1980.5" y="998">9</text><text x="2123.0" y="975">2</text><text x="2162.5" y="975">8</text><text x="1657.0" y="1093">0</text><text x="1696.5" y="1093">6</text><text x="1685.0" y="1192">0</text><text x="1724.5" y="1192">5</text><text x="1588.0" y="1366">0</text><text x="1627.5" y="1366">3</text><text x="1708.0" y="1373">5</text><text x="1747.5" y="1373">2</text><text x="1761.0" y="1473">3</text><text x="1800.5" y="1473">9</text><text x="1786.0" y="1548">5</text><path transform="translate(1825.5,1548) scale(0.03467,-0.03467)" stroke-width="43.3" d="M763 0H583V1147Q518 1085 412 1023Q306 961 222 930V1104Q373 1175 486 1276Q599 1377 646 1472H763Z"/><text x="1915.0" y="1524">3</text><text x="1954.5" y="1524">8</text><text x="2104.0" y="1530">3</text><text x="2143.5" y="1530">5</text><text x="2170.0" y="1438">3</text><text x="2209.5" y="1438">4</text><text x="2360.0" y="1466">3</text><text x="2399.5" y="1466">2</text><text x="2332.0" y="977">3</text><text x="2371.5" y="977">0</text><text x="2385.0" y="1064">3</text><path transform="translate(2424.5,1064) scale(0.03467,-0.03467)" stroke-width="43.3" d="M763 0H583V1147Q518 1085 412 1023Q306 961 222 930V1104Q373 1175 486 1276Q599 1377 646 1472H763Z"/><text x="2472.0" y="1207">3</text><text x="2511.5" y="1207">2</text><text x="2387.0" y="1276">3</text><text x="2426.5" y="1276">3</text><text x="2947.0" y="658">2</text><text x="2986.5" y="658">6</text><path transform="translate(3016.3,873) scale(0.03467,-0.03467)" stroke-width="43.3" d="M763 0H583V1147Q518 1085 412 1023Q306 961 222 930V1104Q373 1175 486 1276Q599 1377 646 1472H763Z"/><text x="3055.8" y="873">4</text><text x="2686.0" y="130">0</text><path transform="translate(2725.5,130) scale(0.03467,-0.03467)" stroke-width="43.3" d="M763 0H583V1147Q518 1085 412 1023Q306 961 222 930V1104Q373 1175 486 1276Q599 1377 646 1472H763Z"/><path transform="translate(2444.3,166) scale(0.03467,-0.03467)" stroke-width="43.3" d="M763 0H583V1147Q518 1085 412 1023Q306 961 222 930V1104Q373 1175 486 1276Q599 1377 646 1472H763Z"/><text x="2483.8" y="166">8</text><path transform="translate(2681.3,219) scale(0.03467,-0.03467)" stroke-width="43.3" d="M763 0H583V1147Q518 1085 412 1023Q306 961 222 930V1104Q373 1175 486 1276Q599 1377 646 1472H763Z"/><text x="2720.8" y="219">9</text><text x="2818.0" y="215">2</text><text x="2857.5" y="215">2</text><text x="2450.0" y="270">2</text><text x="2489.5" y="270">3</text><text x="2398.0" y="420">2</text><text x="2437.5" y="420">0</text><text x="2714.0" y="486">2</text><path transform="translate(2753.5,486) scale(0.03467,-0.03467)" stroke-width="43.3" d="M763 0H583V1147Q518 1085 412 1023Q306 961 222 930V1104Q373 1175 486 1276Q599 1377 646 1472H763Z"/><text x="2677.0" y="563">2</text><text x="2716.5" y="563">4</text><text x="1245.0" y="1406">0</text><path transform="translate(1284.5,1406) scale(0.03467,-0.03467)" stroke-width="43.3" d="M763 0H583V1147Q518 1085 412 1023Q306 961 222 930V1104Q373 1175 486 1276Q599 1377 646 1472H763Z"/><text x="1043.0" y="1639" fill="#000" stroke="none">9</text><text x="1082.5" y="1639" fill="#000" stroke="none">0</text><path transform="translate(1122.0,1639) scale(0.03467,-0.03467)" stroke-width="0.3" d="M763 0H583V1147Q518 1085 412 1023Q306 961 222 930V1104Q373 1175 486 1276Q599 1377 646 1472H763Z" fill="#000" stroke="#000"/><text x="760.0" y="1783" fill="#000" stroke="none">9</text><text x="799.5" y="1783" fill="#000" stroke="none">0</text><path transform="translate(839.0,1783) scale(0.03467,-0.03467)" stroke-width="0.3" d="M763 0H583V1147Q518 1085 412 1023Q306 961 222 930V1104Q373 1175 486 1276Q599 1377 646 1472H763Z" fill="#000" stroke="#000"/><text x="458.0" y="1754">0</text><text x="497.5" y="1754">2</text><text x="392.0" y="1978">0</text><path transform="translate(431.5,1978) scale(0.03467,-0.03467)" stroke-width="43.3" d="M763 0H583V1147Q518 1085 412 1023Q306 961 222 930V1104Q373 1175 486 1276Q599 1377 646 1472H763Z"/><text x="1573.0" y="1736">4</text><text x="1612.5" y="1736">5</text><text x="1686.0" y="1864">4</text><text x="1725.5" y="1864">3</text><text x="2122.0" y="1721">3</text><text x="2161.5" y="1721">7</text><text x="2106.0" y="1900">4</text><path transform="translate(2145.5,1900) scale(0.03467,-0.03467)" stroke-width="43.3" d="M763 0H583V1147Q518 1085 412 1023Q306 961 222 930V1104Q373 1175 486 1276Q599 1377 646 1472H763Z"/><text x="1328.0" y="1829">3</text><text x="1367.5" y="1829">6</text><text x="879.0" y="2015">4</text><text x="918.5" y="2015">7</text><text x="719.0" y="2132">5</text><text x="758.5" y="2132">0</text><text x="1218.0" y="2173">4</text><text x="1257.5" y="2173">6</text><text x="1363.0" y="2093">4</text><text x="1402.5" y="2093">4</text><text x="768.0" y="2264">3</text><text x="807.5" y="2264">6</text><text x="807.0" y="2381">4</text><text x="846.5" y="2381">0</text><text x="1056.0" y="2375">4</text><text x="1095.5" y="2375">8</text><text x="1199.0" y="2309">4</text><text x="1238.5" y="2309">2</text>
</g>
</svg>
</body></html>
